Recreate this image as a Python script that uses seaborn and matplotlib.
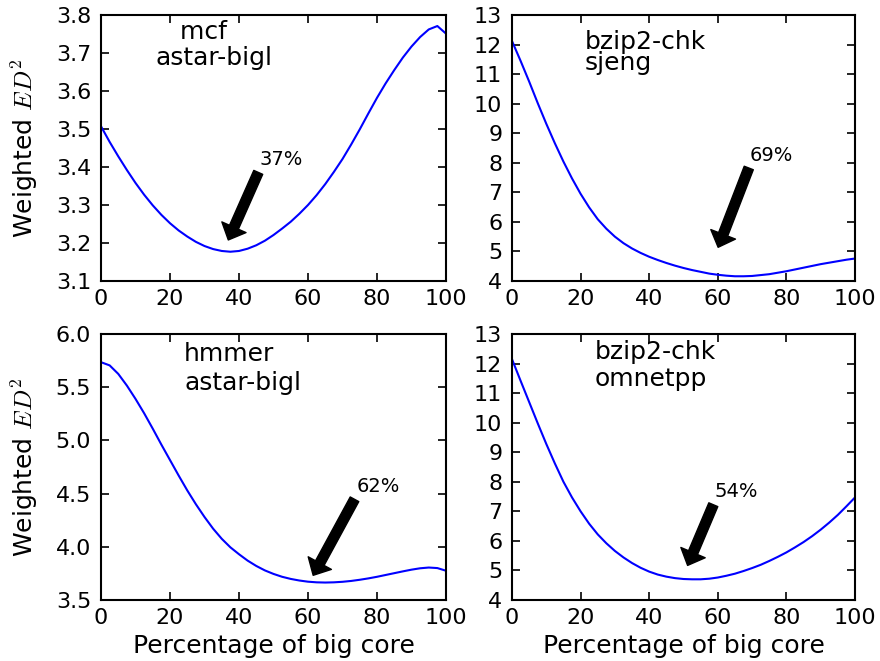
import matplotlib
matplotlib.use("Agg")
import matplotlib.pyplot as plt
import numpy as np
import pandas as pd
import seaborn as sns

# Share of work placed on the big core (%)
pct_big = [0, 2.5, 5, 7.5, 10, 12.5, 15, 17.5, 20, 22.5, 25, 27.5, 30, 32.5, 35, 37.5,
           40, 42.5, 45, 47.5, 50, 52.5, 55, 57.5, 60, 62.5, 65, 67.5, 70, 72.5, 75,
           77.5, 80, 82.5, 85, 87.5, 90, 92.5, 95, 97.5, 100]

# Weighted ED^2 for each workload pair
ed2_mcf_astar = [3.507, 3.466, 3.428, 3.392, 3.358, 3.327, 3.299, 3.274, 3.252, 3.233,
                 3.217, 3.203, 3.192, 3.184, 3.179, 3.177, 3.179, 3.185, 3.194, 3.206,
                 3.221, 3.238, 3.256, 3.277, 3.300, 3.326, 3.355, 3.387, 3.421, 3.459,
                 3.499, 3.541, 3.582, 3.620, 3.655, 3.688, 3.717, 3.742, 3.762, 3.771,
                 3.751]
ed2_bzip_sjeng = [12.12, 11.45, 10.75, 10.02, 9.32, 8.66, 8.04, 7.47, 6.95, 6.49,
                  6.09, 5.77, 5.50, 5.28, 5.10, 4.95, 4.82, 4.71, 4.61, 4.52,
                  4.44, 4.37, 4.31, 4.25, 4.21, 4.18, 4.16, 4.16, 4.17, 4.20,
                  4.23, 4.28, 4.33, 4.39, 4.45, 4.51, 4.57, 4.62, 4.67, 4.72,
                  4.76]
ed2_hmmer_astar = [5.735, 5.705, 5.625, 5.515, 5.390, 5.255, 5.110, 4.960, 4.815, 4.670,
                   4.530, 4.400, 4.280, 4.170, 4.075, 3.995, 3.930, 3.870, 3.820, 3.778,
                   3.745, 3.718, 3.698, 3.683, 3.672, 3.666, 3.664, 3.666, 3.671, 3.679,
                   3.690, 3.703, 3.718, 3.735, 3.752, 3.769, 3.785, 3.798, 3.805, 3.800,
                   3.775]
ed2_bzip_omnetpp = [12.15, 11.42, 10.70, 9.98, 9.28, 8.62, 8.00, 7.47, 7.00, 6.58,
                    6.22, 5.92, 5.66, 5.44, 5.25, 5.09, 4.96, 4.86, 4.79, 4.74,
                    4.71, 4.70, 4.70, 4.72, 4.76, 4.82, 4.89, 4.98, 5.08, 5.19,
                    5.32, 5.46, 5.61, 5.78, 5.96, 6.16, 6.38, 6.62, 6.88, 7.17,
                    7.47]

series = [ed2_mcf_astar, ed2_bzip_sjeng, ed2_hmmer_astar, ed2_bzip_omnetpp]

# Workload pair names shown inside each panel
pair_names = ["   mcf\nastar-bigl",
              "bzip2-chk\nsjeng",
              "hmmer\nastar-bigl",
              "bzip2-chk\nomnetpp"]

# Best split for each pair
best_split = ["37%", "69%", "62%", "54%"]

# Axis ranges and tick steps
y_ranges = [(3.1, 3.8, 0.1, "{:.1f}"),
            (4, 13, 1, "{:.0f}"),
            (3.5, 6.0, 0.5, "{:.1f}"),
            (4, 13, 1, "{:.0f}")]

# Placement of the in-panel names: (x, last-line baseline, line spacing)
name_pos = [(15.9, 3.669, 1.08),
            (21.3, 11.13, 0.88),
            (24.1, 5.469, 1.28),
            (24.2, 11.23, 1.16)]

# Arrow geometry: (text anchor, arrow tip)
arrow_pos = [((46.0, 3.405), (36.9, 3.208)),
             ((69.4, 8.07), (60.1, 5.14)),
             ((74.0, 4.515), (61.5, 3.732)),
             ((59.1, 7.47), (51.2, 5.17))]

sns.set_theme(style="ticks")
plt.rcParams["font.family"] = ["DejaVu Sans"]
plt.rcParams["mathtext.fontset"] = "cm"
plt.rcParams["axes.edgecolor"] = "black"
plt.rcParams["axes.linewidth"] = 1.5
plt.rcParams["text.color"] = "black"
plt.rcParams["axes.labelcolor"] = "black"
plt.rcParams["xtick.color"] = "black"
plt.rcParams["ytick.color"] = "black"

fig = plt.figure(figsize=(8.8, 6.61), dpi=100)
fig.patch.set_facecolor("white")

lefts = [0.1148, 0.5818]
widths = [0.392, 0.3898]
bottoms = [0.5749, 0.0923]
h = 0.4024

for i, vals in enumerate(series):
    row, col = divmod(i, 2)
    ax = fig.add_axes([lefts[col], bottoms[row], widths[col], h])
    df = pd.DataFrame({"pct": pct_big, "ed2": vals})
    sns.lineplot(data=df, x="pct", y="ed2", ax=ax, color="#0000ff", linewidth=1.5)

    lo, hi, step, fmt = y_ranges[i]
    ax.set_xlim(0, 100)
    ax.set_ylim(lo, hi)
    xt = np.arange(0, 101, 20)
    ax.set_xticks(xt)
    ax.set_xticklabels([str(v) for v in xt])
    yt = np.arange(lo, hi + step / 2, step)
    ax.set_yticks(yt)
    ax.set_yticklabels([fmt.format(v) for v in yt])

    ax.tick_params(direction="in", top=True, right=True, length=6, width=1.2,
                   labelsize=16)
    ax.tick_params(axis="x", pad=6)
    ax.tick_params(axis="y", pad=7)
    for sp in ax.spines.values():
        sp.set_visible(True)
        sp.set_linewidth(1.5)
        sp.set_color("black")

    if col == 0:
        ax.set_ylabel("Weighted $ED^2$", fontsize=18)
        ax.yaxis.set_label_coords(-0.178, 0.5)
    else:
        ax.set_ylabel("")
    if row == 1:
        ax.set_xlabel("Percentage of big core", fontsize=18)
        ax.xaxis.set_label_coords(0.5, -0.128)
    else:
        ax.set_xlabel("")

    nx, ny, ls = name_pos[i]
    ax.text(nx, ny, pair_names[i], fontsize=18, ha="left", va="baseline",
            linespacing=ls)

    txt, tip = arrow_pos[i]
    ax.annotate(best_split[i], xy=tip, xytext=txt, fontsize=14,
                ha="left", va="baseline",
                arrowprops=dict(facecolor="black", edgecolor="black", shrink=0.0,
                                width=7, headwidth=19, headlength=10))

fig.savefig("out.png", dpi=100, facecolor="white")
